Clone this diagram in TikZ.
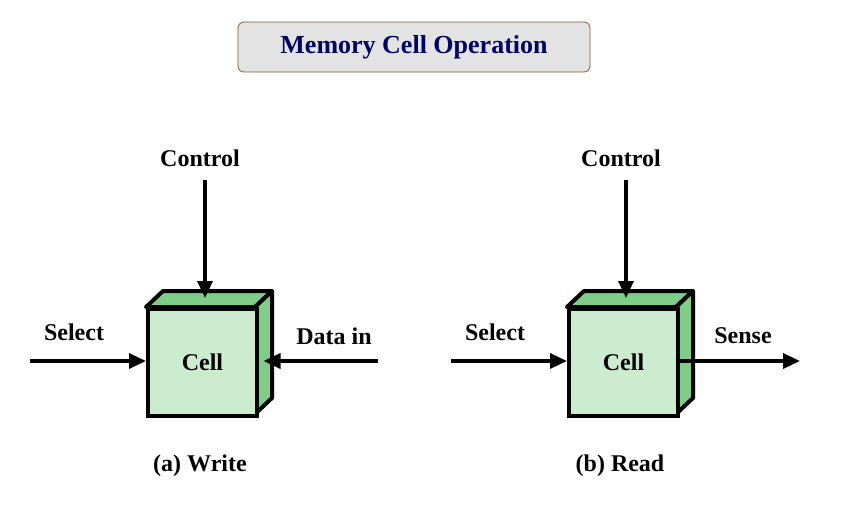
\documentclass[tikz,border=0pt]{standalone}
\usepackage{fontspec}
\setmainfont{Liberation Serif}
\usetikzlibrary{arrows.meta}
\begin{document}
\begin{tikzpicture}[x=1pt,y=-1pt,
  lbl/.style={font=\bfseries\fontsize{24}{28}\selectfont},
  arr/.style={line width=3.3pt,-{Triangle[length=17pt,width=15pt]}},
  edge/.style={line width=4pt,line join=round}]
\useasboundingbox (0,0) rectangle (857,522);
\node[draw=brown!70!black,line width=0.8pt,fill=gray!22,rounded corners=6pt,minimum width=352pt,minimum height=50pt,
  font=\bfseries\fontsize{26}{30}\selectfont,text=blue!40!black] (title) at (414,47) {Memory Cell Operation};
\foreach \n/\x in {w/146,r/567}{
  \filldraw[edge,fill={rgb,255:red,126;green,206;blue,138}] (\x,307) -- (\x+17,291) -- (\x+126,291) -- (\x+109,307) -- cycle;
  \filldraw[edge,fill={rgb,255:red,126;green,206;blue,138}] (\x+109,307) -- (\x+126,291) -- (\x+126,398) -- (\x+109,414) -- cycle;
  \node[draw,line width=4pt,fill={rgb,255:red,204;green,236;blue,207},minimum width=109pt,minimum height=107pt,inner sep=0,
    lbl,anchor=north west] (\n) at (\x,307) {Cell};
  \coordinate (\n side) at (\x+117.5,361);
  \coordinate (\n top) at (\x+59,298);
  \coordinate (\n left) at (\x,361);
  \coordinate (\n right) at (\x+109,361);
}
\coordinate (wc) at (205,180); \coordinate (rc) at (626,180);
\coordinate (ws) at (30,361); \coordinate (rs) at (451,361);
\coordinate (wd) at (378,361); \coordinate (ro) at (800,361);
\draw[arr] (wc) -- (wtop);
\draw[arr] (rc) -- (rtop);
\draw[arr] (ws) -- (wleft);
\draw[arr] (rs) -- (rleft);
\draw[arr] (wd) -- (wside);
\draw[arr] (rright) -- (ro);
\node[lbl] (l1) at (200,158) {Control};
\node[lbl] (l2) at (621,158) {Control};
\node[lbl] (l3) at (74,332) {Select};
\node[lbl] (l4) at (495,332) {Select};
\node[lbl] (l5) at (334,336) {Data in};
\node[lbl] (l6) at (743,336) {Sense};
\node[lbl] (c1) at (200,466) {(a) Write};
\node[lbl] (c2) at (620,466) {(b) Read};
\end{tikzpicture}
\end{document}
